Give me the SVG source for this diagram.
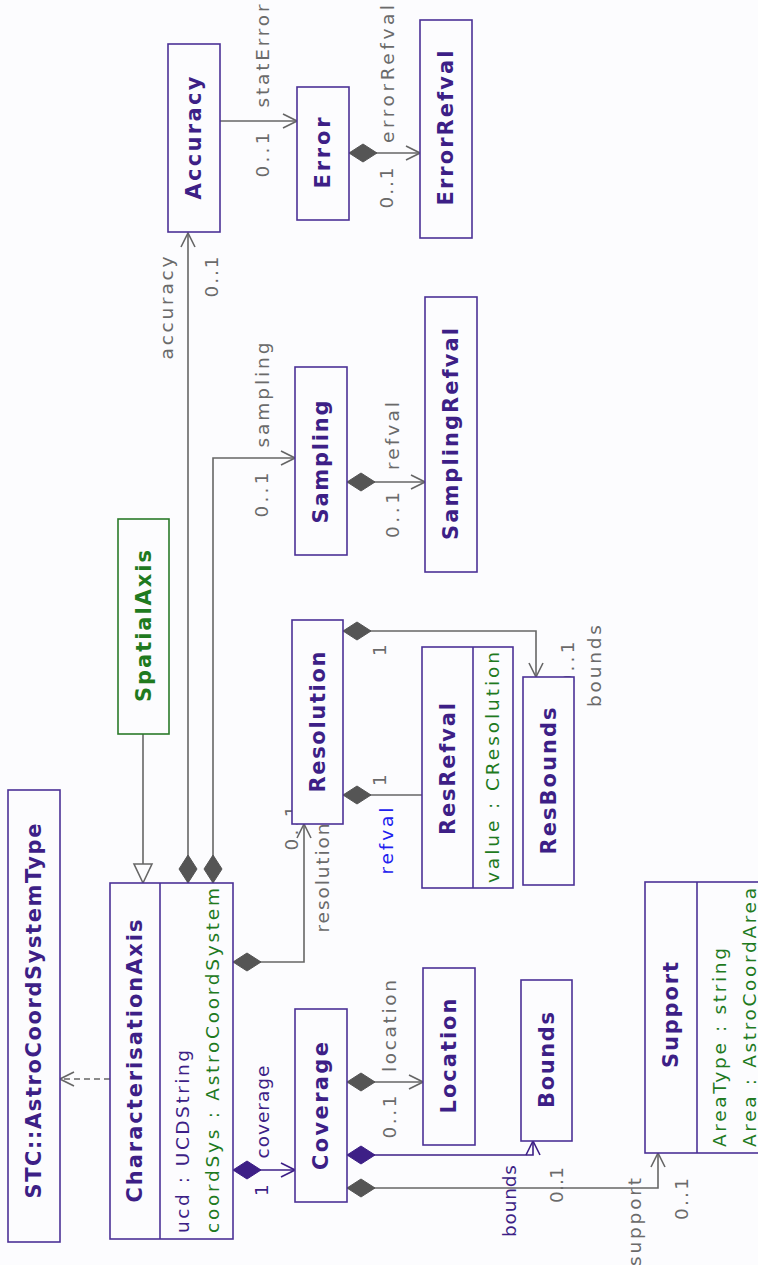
<svg xmlns="http://www.w3.org/2000/svg" width="758" height="1265" viewBox="0 0 758 1265">
<style>
text{font-family:"DejaVu Sans","Liberation Sans",sans-serif;dominant-baseline:central}
.box{fill:#fcfcfe;stroke:#4b3197;stroke-width:1.6}
.gbox{fill:#fcfcfe;stroke:#2a7a2a;stroke-width:1.6}
.div{stroke:#4b3197;stroke-width:1.6}
.name{font-weight:bold;font-size:21px;fill:#3d1f86;text-anchor:middle}
.gname{font-weight:bold;font-size:21px;fill:#1f7a1f;text-anchor:middle}
.attr{font-size:18.5px;text-anchor:start}
.pa{fill:#3d1f86}
.ga{fill:#1f7a1f}
.lbl{font-size:18.5px;fill:#6a6a6a;text-anchor:middle}
.plbl{font-size:18.5px;fill:#3d1f86;text-anchor:middle}
.blbl{font-size:18.5px;fill:#2020ee;text-anchor:middle}
.c{fill:none;stroke:#666;stroke-width:1.6}
.cp{fill:none;stroke:#3d1f86;stroke-width:1.6}
</style>
<defs>
<marker id="arr" markerUnits="userSpaceOnUse" markerWidth="16" markerHeight="16" viewBox="0 0 16 16" refX="15" refY="8" orient="auto"><path d="M1,1 L15,8 L1,15" fill="none" stroke="#666" stroke-width="1.6"/></marker>
<marker id="arrP" markerUnits="userSpaceOnUse" markerWidth="16" markerHeight="16" viewBox="0 0 16 16" refX="15" refY="8" orient="auto"><path d="M1,1 L15,8 L1,15" fill="none" stroke="#3d1f86" stroke-width="1.6"/></marker>
<marker id="dia" markerUnits="userSpaceOnUse" markerWidth="30" markerHeight="20" viewBox="0 0 30 20" refX="1" refY="10" orient="auto"><path d="M1,10 L15,1 L29,10 L15,19 Z" fill="#555" stroke="#555" stroke-width="1"/></marker>
<marker id="diaP" markerUnits="userSpaceOnUse" markerWidth="30" markerHeight="20" viewBox="0 0 30 20" refX="1" refY="10" orient="auto"><path d="M1,10 L15,1 L29,10 L15,19 Z" fill="#3d1f86" stroke="#3d1f86" stroke-width="1"/></marker>
<marker id="tri" markerUnits="userSpaceOnUse" markerWidth="22" markerHeight="22" viewBox="0 0 22 22" refX="20" refY="11" orient="auto"><path d="M1,2 L20,11 L1,20 Z" fill="#fcfcfe" stroke="#666" stroke-width="1.6"/></marker>
</defs>
<rect x="0" y="0" width="758" height="1265" fill="#fcfcfe"/>

<g id="connectors">
<path class="c" d="M110,1079 H60" stroke-dasharray="6,4" marker-end="url(#arr)"/>
<path class="c" d="M143,734 V883" marker-end="url(#tri)"/>
<path class="c" d="M188,883 V233" marker-start="url(#dia)" marker-end="url(#arr)"/>
<path class="c" d="M213,883 V458 H295" marker-start="url(#dia)" marker-end="url(#arr)"/>
<path class="c" d="M220,121 H297" marker-end="url(#arr)"/>
<path class="c" d="M349,153 H420" marker-start="url(#dia)" marker-end="url(#arr)"/>
<path class="c" d="M347,482 H425" marker-start="url(#dia)" marker-end="url(#arr)"/>
<path class="c" d="M233,962 H304 V824" marker-start="url(#dia)" marker-end="url(#arr)"/>
<path class="c" d="M343,795 H422" marker-start="url(#dia)"/>
<path class="c" d="M343,631 H536 V677" marker-start="url(#dia)" marker-end="url(#arr)"/>
<path class="cp" d="M233,1170 H295" marker-start="url(#diaP)" marker-end="url(#arrP)"/>
<path class="c" d="M347,1082 H423" marker-start="url(#dia)" marker-end="url(#arr)"/>
<path class="cp" d="M347,1155 H533 V1141" marker-start="url(#diaP)" marker-end="url(#arrP)"/>
<path class="c" d="M347,1188 H658 V1153" marker-start="url(#dia)" marker-end="url(#arr)"/>
</g>

<g id="labels">
<text class="lbl" transform="translate(166,308) rotate(-90)" textLength="103" lengthAdjust="spacing">accuracy</text>
<text class="lbl" transform="translate(211,277) rotate(-90)" textLength="41" lengthAdjust="spacing">0..1</text>
<text class="lbl" transform="translate(262,395) rotate(-90)" textLength="105" lengthAdjust="spacing">sampling</text>
<text class="lbl" transform="translate(261,495) rotate(-90)" textLength="45" lengthAdjust="spacing">0..1</text>
<text class="lbl" transform="translate(392,436) rotate(-90)" textLength="68" lengthAdjust="spacing">refval</text>
<text class="lbl" transform="translate(392,515) rotate(-90)" textLength="46" lengthAdjust="spacing">0..1</text>
<text class="lbl" transform="translate(262,56) rotate(-90)" textLength="103" lengthAdjust="spacing">statError</text>
<text class="lbl" transform="translate(262,155) rotate(-90)" textLength="45" lengthAdjust="spacing">0..1</text>
<text class="lbl" transform="translate(387,74) rotate(-90)" textLength="138" lengthAdjust="spacing">errorRefval</text>
<text class="lbl" transform="translate(386,188) rotate(-90)" textLength="41" lengthAdjust="spacing">0..1</text>
<text class="lbl" transform="translate(322,878) rotate(-90)" textLength="109" lengthAdjust="spacing">resolution</text>
<text class="lbl" transform="translate(291,828) rotate(-90)" textLength="45" lengthAdjust="spacing">0..1</text>
<text class="lbl" transform="translate(379,780) rotate(-90)">1</text>
<text class="blbl" transform="translate(386,841) rotate(-90)" textLength="67" lengthAdjust="spacing">refval</text>
<text class="lbl" transform="translate(379,650) rotate(-90)">1</text>
<text class="lbl" transform="translate(567,664) rotate(-90)" textLength="45" lengthAdjust="spacing">0..1</text>
<text class="lbl" transform="translate(594,666) rotate(-90)" textLength="82" lengthAdjust="spacing">bounds</text>
<text class="plbl" transform="translate(262,1112) rotate(-90)" textLength="93" lengthAdjust="spacing">coverage</text>
<text class="plbl" transform="translate(261,1190) rotate(-90)">1</text>
<text class="lbl" transform="translate(389,1026) rotate(-90)" textLength="92" lengthAdjust="spacing">location</text>
<text class="lbl" transform="translate(389,1117) rotate(-90)" textLength="43" lengthAdjust="spacing">0..1</text>
<text class="plbl" transform="translate(509,1201) rotate(-90)" textLength="72" lengthAdjust="spacing">bounds</text>
<text class="lbl" transform="translate(556,1185) rotate(-90)" textLength="36" lengthAdjust="spacing">0..1</text>
<text class="lbl" transform="translate(634,1222) rotate(-90)" textLength="88" lengthAdjust="spacing">support</text>
<text class="lbl" transform="translate(681,1199) rotate(-90)" textLength="42" lengthAdjust="spacing">0..1</text>
</g>

<g id="STC_AstroCoordSystemType">
<rect class="box" x="8" y="790" width="52" height="452"/>
<text class="name" transform="translate(34,1011) rotate(-90)" textLength="375" lengthAdjust="spacing">STC::AstroCoordSystemType</text>
</g>
<g id="CharacterisationAxis">
<rect class="box" x="110" y="883" width="123" height="356"/>
<line class="div" x1="160" y1="883" x2="160" y2="1239"/>
<text class="name" transform="translate(135,1061) rotate(-90)" textLength="283" lengthAdjust="spacing">CharacterisationAxis</text>
<text class="attr pa" transform="translate(182,1233) rotate(-90)" textLength="183" lengthAdjust="spacing">ucd : UCDString</text>
<text class="attr ga" transform="translate(212,1233) rotate(-90)" textLength="345" lengthAdjust="spacing">coordSys : AstroCoordSystem</text>
</g>
<g id="SpatialAxis">
<rect class="gbox" x="118" y="519" width="51" height="215"/>
<text class="gname" transform="translate(143.5,626) rotate(-90)" textLength="152" lengthAdjust="spacing">SpatialAxis</text>
</g>
<g id="Accuracy">
<rect class="box" x="168" y="44" width="52" height="188"/>
<text class="name" transform="translate(194,138) rotate(-90)" textLength="123" lengthAdjust="spacing">Accuracy</text>
</g>
<g id="Error">
<rect class="box" x="297" y="87" width="52" height="133"/>
<text class="name" transform="translate(323,153) rotate(-90)" textLength="71" lengthAdjust="spacing">Error</text>
</g>
<g id="ErrorRefval">
<rect class="box" x="420" y="20" width="52" height="218"/>
<text class="name" transform="translate(446,128) rotate(-90)" textLength="155" lengthAdjust="spacing">ErrorRefval</text>
</g>
<g id="Sampling">
<rect class="box" x="295" y="367" width="52" height="188"/>
<text class="name" transform="translate(321,462) rotate(-90)" textLength="123" lengthAdjust="spacing">Sampling</text>
</g>
<g id="SamplingRefval">
<rect class="box" x="425" y="297" width="52" height="275"/>
<text class="name" transform="translate(451,434) rotate(-90)" textLength="212" lengthAdjust="spacing">SamplingRefval</text>
</g>
<g id="Resolution">
<rect class="box" x="292" y="620" width="51" height="204"/>
<text class="name" transform="translate(317.5,722) rotate(-90)" textLength="141" lengthAdjust="spacing">Resolution</text>
</g>
<g id="ResRefval">
<rect class="box" x="422" y="647" width="91" height="241"/>
<line class="div" x1="473" y1="647" x2="473" y2="888"/>
<text class="name" transform="translate(447.5,769) rotate(-90)" textLength="132" lengthAdjust="spacing">ResRefval</text>
<text class="attr ga" transform="translate(492,883) rotate(-90)" textLength="231" lengthAdjust="spacing">value : CResolution</text>
</g>
<g id="ResBounds">
<rect class="box" x="523" y="677" width="51" height="208"/>
<text class="name" transform="translate(548.5,781) rotate(-90)" textLength="147" lengthAdjust="spacing">ResBounds</text>
</g>
<g id="Coverage">
<rect class="box" x="295" y="1009" width="52" height="193"/>
<text class="name" transform="translate(321,1106) rotate(-90)" textLength="128" lengthAdjust="spacing">Coverage</text>
</g>
<g id="Location">
<rect class="box" x="423" y="968" width="52" height="177"/>
<text class="name" transform="translate(449,1056) rotate(-90)" textLength="115" lengthAdjust="spacing">Location</text>
</g>
<g id="Bounds">
<rect class="box" x="521" y="980" width="51" height="161"/>
<text class="name" transform="translate(546.5,1060) rotate(-90)" textLength="96" lengthAdjust="spacing">Bounds</text>
</g>
<g id="Support">
<rect class="box" x="645" y="882" width="130" height="271"/>
<line class="div" x1="697" y1="882" x2="697" y2="1153"/>
<text class="name" transform="translate(671,1015) rotate(-90)" textLength="106" lengthAdjust="spacing">Support</text>
<text class="attr ga" transform="translate(719,1147) rotate(-90)" textLength="199" lengthAdjust="spacing">AreaType : string</text>
<text class="attr ga" transform="translate(749,1147) rotate(-90)" textLength="259" lengthAdjust="spacing">Area : AstroCoordArea</text>
</g>
</svg>
